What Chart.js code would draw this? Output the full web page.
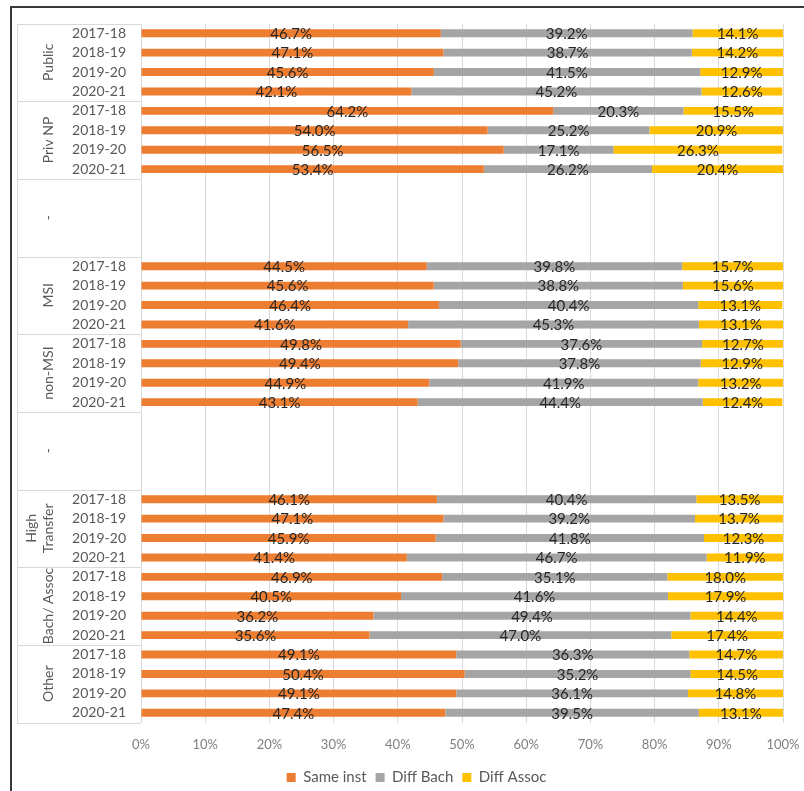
<!DOCTYPE html>
<html>
<head>
<meta charset="utf-8">
<script src="https://cdn.jsdelivr.net/npm/chart.js@4"></script>
<style>
  body { margin: 0; background: #fff; }
  #wrap { position: relative; width: 804px; height: 791px; }
  #frame { position: absolute; left: 10px; top: 6px; right: 0; bottom: 0; border-left: 2px solid #3a3a3a; border-top: 2px solid #3a3a3a; pointer-events: none; }
  canvas { position: absolute; left: 0; top: 0; }
</style>
</head>
<body>
<div id="wrap">
  <canvas id="myChart" width="804" height="791"></canvas>
  <div id="frame"></div>
</div>
<script>
const yearLabels = ['2017-18', '2018-19', '2019-20', '2020-21'];
// '-' groups are empty spacer blocks between the three comparisons
const groupNames = ['Public', 'Priv NP', '-', 'MSI', 'non-MSI', '-', ['High', 'Transfer'], 'Bach/ Assoc', 'Other'];

const sameInst = [
    46.7, 47.1, 45.6, 42.1,
    64.2, 54.0, 56.5, 53.4,
    null, null, null, null,
    44.5, 45.6, 46.4, 41.6,
    49.8, 49.4, 44.9, 43.1,
    null, null, null, null,
    46.1, 47.1, 45.9, 41.4,
    46.9, 40.5, 36.2, 35.6,
    49.1, 50.4, 49.1, 47.4
];
const diffBach = [
    39.2, 38.7, 41.5, 45.2,
    20.3, 25.2, 17.1, 26.2,
    null, null, null, null,
    39.8, 38.8, 40.4, 45.3,
    37.6, 37.8, 41.9, 44.4,
    null, null, null, null,
    40.4, 39.2, 41.8, 46.7,
    35.1, 41.6, 49.4, 47.0,
    36.3, 35.2, 36.1, 39.5
];
const diffAssoc = [
    14.1, 14.2, 12.9, 12.6,
    15.5, 20.9, 26.3, 20.4,
    null, null, null, null,
    15.7, 15.6, 13.1, 13.1,
    12.7, 12.9, 13.2, 12.4,
    null, null, null, null,
    13.5, 13.7, 12.3, 11.9,
    18.0, 17.9, 14.4, 17.4,
    14.7, 14.5, 14.8, 13.1
];

const labels = groupNames.flatMap(g => g === '-' ? ['', '', '', ''] : yearLabels);

Chart.defaults.font.family = 'Lato, "Liberation Sans", sans-serif';

function createDataset(text, data, color) {
    return {
        label: text,
        data: data,
        backgroundColor: color,
        borderWidth: 0,
        barPercentage: 0.41,
        categoryPercentage: 1
    };
}

// group names on the left, boxed by thin lines
const groupAxis = {
    id: 'groupAxis',
    afterDraw(chart) {
        const ctx = chart.ctx;
        const area = chart.chartArea;
        const band = (area.bottom - area.top) / labels.length;
        ctx.save();
        ctx.strokeStyle = '#d9d9d9';
        ctx.lineWidth = 1;
        ctx.beginPath();
        for (let k = 0; k <= groupNames.length; k++) {
            const y = Math.round(area.top + k * 4 * band) + 0.5;
            ctx.moveTo(17, y);
            ctx.lineTo(area.left, y);
        }
        ctx.moveTo(17.5, Math.round(area.top) + 0.5);
        ctx.lineTo(17.5, Math.round(area.bottom) + 0.5);
        ctx.stroke();

        ctx.fillStyle = '#595959';
        ctx.font = '14px Lato, "Liberation Sans", sans-serif';
        ctx.textAlign = 'center';
        ctx.textBaseline = 'middle';
        groupNames.forEach((g, k) => {
            const lines = Array.isArray(g) ? g : [g];
            const cy = area.top + (k * 4 + 2) * band;
            ctx.save();
            ctx.translate(lines.length > 1 ? 40 : 48, cy);
            ctx.rotate(-Math.PI / 2);
            lines.forEach((line, i) => {
                ctx.fillText(line, 0, (i - (lines.length - 1) / 2) * 17);
            });
            ctx.restore();
        });
        ctx.restore();
    }
};

// percentage written in the middle of every segment
const segmentLabels = {
    id: 'segmentLabels',
    afterDatasetsDraw(chart) {
        const ctx = chart.ctx;
        ctx.save();
        ctx.fillStyle = '#262626';
        ctx.font = '15px Lato, "Liberation Sans", sans-serif';
        ctx.textAlign = 'center';
        ctx.textBaseline = 'middle';
        chart.data.datasets.forEach((ds, i) => {
            chart.getDatasetMeta(i).data.forEach((bar, j) => {
                const v = ds.data[j];
                if (v == null) return;
                ctx.fillText(v.toFixed(1) + '%', (bar.x + bar.base) / 2, bar.y + 1);
            });
        });
        ctx.restore();
    }
};

const myChart = new Chart(document.getElementById('myChart'), {
    type: 'bar',
    data: {
        labels: labels,
        datasets: [
            createDataset('Same inst', sameInst, '#ED7D31'),
            createDataset('Diff Bach', diffBach, '#A5A5A5'),
            createDataset('Diff Assoc', diffAssoc, '#FFC000')
        ]
    },
    options: {
        indexAxis: 'y',
        responsive: false,
        devicePixelRatio: 1,
        animation: false,
        layout: {
            padding: { top: 23.5, left: 50, right: 21, bottom: -4 }
        },
        plugins: {
            tooltip: { enabled: false },
            legend: {
                position: 'bottom',
                labels: {
                    boxWidth: 9,
                    boxHeight: 9,
                    padding: 9,
                    color: '#595959',
                    font: { size: 15 }
                }
            }
        },
        scales: {
            x: {
                stacked: true,
                min: 0,
                max: 100,
                afterFit: scale => { scale.height = 38.5; },
                ticks: {
                    stepSize: 10,
                    padding: 0,
                    color: '#7f7f7f',
                    font: { size: 13 },
                    callback: v => v + '%'
                },
                grid: {
                    color: '#d9d9d9',
                    tickLength: 15,
                    tickColor: 'rgba(0,0,0,0)'
                },
                border: { display: false }
            },
            y: {
                stacked: true,
                afterFit: scale => { scale.width = 91; },
                ticks: {
                    autoSkip: false,
                    padding: 15,
                    color: '#595959',
                    font: { size: 14 }
                },
                grid: {
                    display: false,
                    drawTicks: false
                },
                border: { display: false }
            }
        }
    },
    plugins: [groupAxis, segmentLabels]
});
</script>
</body>
</html>
